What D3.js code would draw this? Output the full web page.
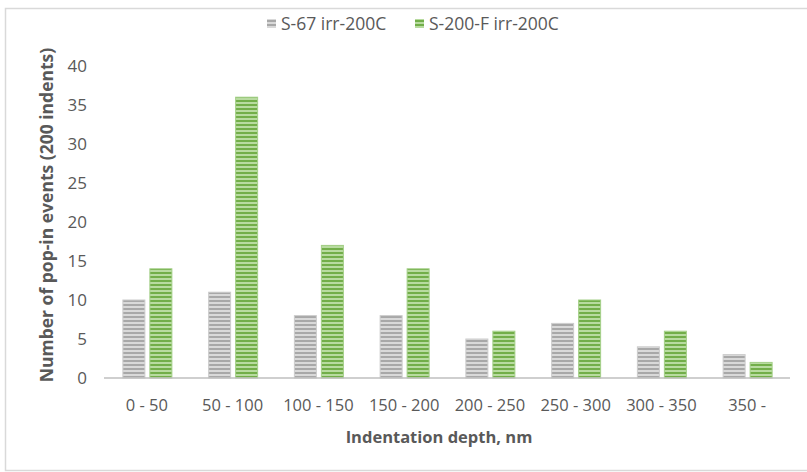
<!DOCTYPE html>
<html>
<head>
<meta charset="utf-8">
<script src="https://cdn.jsdelivr.net/npm/d3@7"></script>
<style>
  html, body { margin: 0; padding: 0; background: #fff; }
  svg { display: block; font-family: "Open Sans", "Noto Sans", sans-serif; }
</style>
</head>
<body>
<svg id="chart" width="807" height="472"></svg>
<script>
// Pop-in events per indentation-depth bin
const categories = ["0 - 50", "50 - 100", "100 - 150", "150 - 200", "200 - 250", "250 - 300", "300 - 350", "350 -"];
const seriesNames = ["S-67 irr-200C", "S-200-F irr-200C"];
const s67Values = [10, 11, 8, 8, 5, 7, 4, 3];
const s200Values = [14, 36, 17, 14, 6, 10, 6, 2];
const yTicks = [0, 5, 10, 15, 20, 25, 30, 35, 40];

const svg = d3.select("#chart");
const W = 807, H = 472;
const margin = { left: 104, right: 17, top: 66, bottom: 94 };
const textColor = "#595959";

// Outer frame
svg.append("rect")
  .attr("x", 5.5).attr("y", 8.5)
  .attr("width", W + 10).attr("height", 462)
  .attr("fill", "none").attr("stroke", "#d9d9d9").attr("stroke-width", 1.5);

// Striped fills
const defs = svg.append("defs");
function stripes(id, dark, light) {
  const p = defs.append("pattern").attr("id", id)
    .attr("patternUnits", "userSpaceOnUse").attr("width", 8).attr("height", 4);
  p.append("rect").attr("width", 8).attr("height", 4).attr("fill", light);
  p.append("rect").attr("width", 8).attr("height", 2).attr("fill", dark);
}
stripes("stripeGrey", "#a8a8a8", "#d9d9d9");
stripes("stripeGreen", "#72ae49", "#b8dba0");

const series = [
  { name: seriesNames[0], values: s67Values, fill: "url(#stripeGrey)", stroke: "#cccccc" },
  { name: seriesNames[1], values: s200Values, fill: "url(#stripeGreen)", stroke: "#a3cf87" }
];

const x = d3.scaleBand().domain(categories)
  .range([margin.left, W - margin.right]).paddingInner(0).paddingOuter(0);
const y = d3.scaleLinear().domain([0, 40]).range([H - margin.bottom, margin.top]);

const barW = 22, gap = 5;

// Bars
series.forEach((s, si) => {
  svg.append("g").selectAll("rect")
    .data(s.values)
    .join("rect")
    .attr("x", (d, i) => x(categories[i]) + x.bandwidth() / 2 - (barW + gap / 2) + si * (barW + gap) + 0.5)
    .attr("y", d => y(d))
    .attr("width", barW)
    .attr("height", d => y(0) - y(d))
    .attr("fill", s.fill)
    .attr("stroke", s.stroke)
    .attr("stroke-width", 1);
});

// X axis line
svg.append("line")
  .attr("x1", margin.left).attr("x2", W - margin.right)
  .attr("y1", y(0)).attr("y2", y(0))
  .attr("stroke", "#bfbfbf").attr("stroke-width", 1.5);

// Y tick labels
svg.append("g").selectAll("text")
  .data(yTicks)
  .join("text")
  .attr("x", 87)
  .attr("y", d => y(d))
  .attr("dy", "0.35em")
  .attr("text-anchor", "end")
  .attr("font-size", 17)
  .attr("fill", textColor)
  .text(d => d);

// X tick labels
svg.append("g").selectAll("text")
  .data(categories)
  .join("text")
  .attr("x", d => x(d) + x.bandwidth() / 2)
  .attr("y", 411)
  .attr("text-anchor", "middle")
  .attr("font-size", 16.5)
  .attr("fill", textColor)
  .text(d => d);

// Axis titles
svg.append("text")
  .attr("x", (margin.left + W - margin.right) / 2 - 8)
  .attr("y", 443)
  .attr("text-anchor", "middle")
  .attr("font-size", 16.5)
  .attr("font-weight", "bold")
  .attr("fill", textColor)
  .text("Indentation depth, nm");

svg.append("text")
  .attr("transform", `translate(53, ${(y(0) + y(40)) / 2 - 7}) rotate(-90)`)
  .attr("text-anchor", "middle")
  .attr("font-size", 17.5)
  .attr("font-weight", "bold")
  .attr("fill", textColor)
  .text("Number of pop-in events (200 indents)");

// Legend
const legendItems = [{ s: series[0], x: 267 }, { s: series[1], x: 415 }];
legendItems.forEach(li => {
  svg.append("rect")
    .attr("x", li.x).attr("y", 19).attr("width", 9).attr("height", 9)
    .attr("fill", li.s.fill);
  svg.append("text")
    .attr("x", li.x + 14).attr("y", 23.5).attr("dy", "0.35em")
    .attr("font-size", 17.5).attr("fill", textColor)
    .text(li.s.name);
});
</script>
</body>
</html>
